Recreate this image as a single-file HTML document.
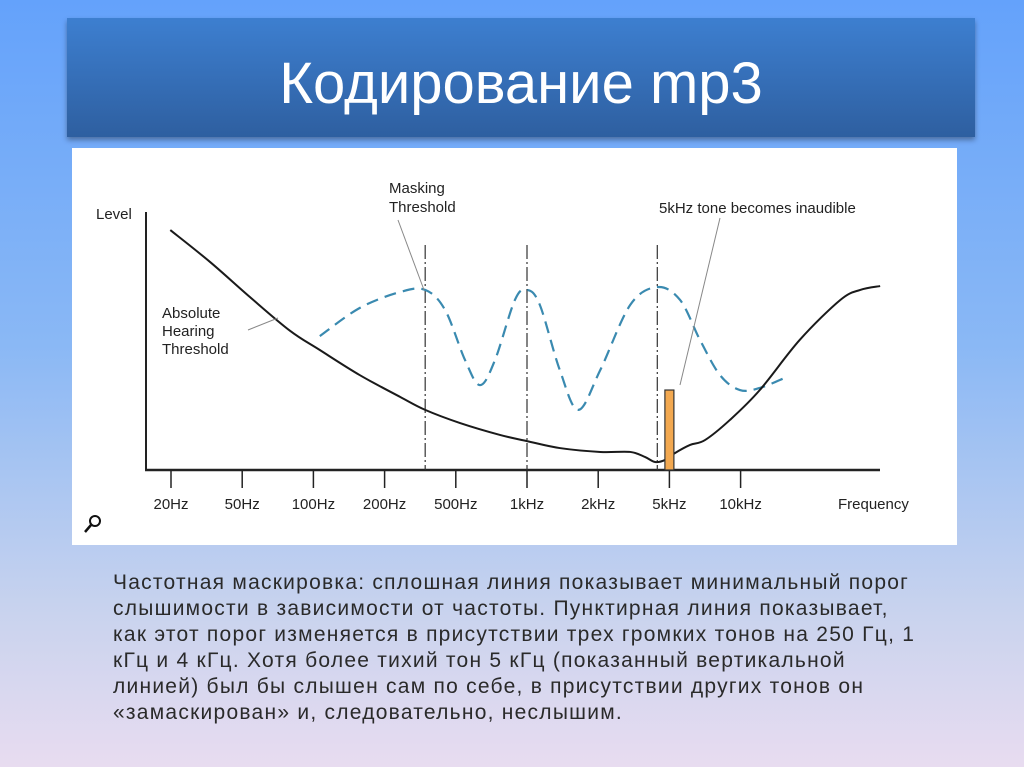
<!DOCTYPE html>
<html><head><meta charset="utf-8"><style>
body{margin:0;width:1024px;height:767px;overflow:hidden;background:linear-gradient(180deg,#64a2fb 0%,#8ab8f5 45%,#c9d3ee 80%,#e8dcf0 100%);font-family:"Liberation Sans","DejaVu Sans",sans-serif;position:relative}
#title{position:absolute;left:67px;top:18px;width:908px;height:119px;background:linear-gradient(180deg,#3d7fd0,#2e5fa0);box-shadow:0 3px 5px rgba(0,0,0,.35);color:#fff;font-size:58px;text-align:center;line-height:132px}
#chart{position:absolute;left:72px;top:148px;width:885px;height:397px;background:#fff}
#txt{position:absolute;left:113px;top:570px;width:900px;font-size:21px;letter-spacing:1.25px;line-height:26px;color:#2a2a2a;white-space:nowrap}
</style></head><body>
<div id="title">Кодирование mp3</div>
<svg id="chart" width="885" height="397" viewBox="72 148 885 397" xmlns="http://www.w3.org/2000/svg" font-family="Liberation Sans, sans-serif" font-size="15" fill="#222"></svg>
<div id="txt">Частотная маскировка: сплошная линия показывает минимальный порог<br>слышимости в зависимости от частоты. Пунктирная линия показывает,<br>как этот порог изменяется в присутствии трех громких тонов на 250 Гц, 1<br>кГц и 4 кГц. Хотя более тихий тон 5 кГц (показанный вертикальной<br>линией) был бы слышен сам по себе, в присутствии других тонов он<br>«замаскирован» и, следовательно, неслышим.</div>
<script>
const tickLabels=["20Hz","50Hz","100Hz","200Hz","500Hz","1kHz","2kHz","5kHz","10kHz"];
const absIdx=[-0.01,0.55,1.11,1.67,2.09,2.65,3.22,3.57,4.06,4.62,5,5.46,6.03,6.45,6.66,6.8,6.94,7.08,7.29,7.5,7.85,8.27,8.83,9.4,9.68,9.96];
const absLvl=[93,80.6,67,54,46.5,36.8,28.3,23.3,18.2,13.6,11.2,8.5,7,7,5,3.1,3.9,6.6,9.7,11.6,19.4,31,50.4,65.9,69.8,71.3];
const maskIdx=[2.09,2.65,3.22,3.57,3.85,4.13,4.34,4.55,4.83,5,5.18,5.46,5.72,6.03,6.45,6.83,7.15,7.43,7.71,7.99,8.27,8.62];
const maskLvl=[51.9,62.8,69,69.8,62,42.6,32.9,42.6,65.9,69.8,64,38.8,23.3,38.8,64,70.9,65.9,50.4,36.8,31,31.8,35.7];
const maskerIdx=[3.57,5,6.83];
const toneIdx=[7.0];const toneLvl=[31];
const X=i=>171+i*71.2, Y=l=>470-l*2.58;
const svg=document.getElementById('chart');const NS='http://www.w3.org/2000/svg';
function add(tag,a,name,text){const e=document.createElementNS(NS,tag);for(const k in a)e.setAttribute(k,a[k]);


if(text)e.textContent=text;svg.appendChild(e);return e;}
function smooth(xs,ys){const p=xs.map((x,i)=>[X(x),Y(ys[i])]);let d='M'+p[0];for(let i=0;i<p.length-1;i++){const a=p[i-1]||p[i],b=p[i],c=p[i+1],e=p[i+2]||c;
d+=` C${b[0]+(c[0]-a[0])/6},${b[1]+(c[1]-a[1])/6} ${c[0]-(e[0]-b[0])/6},${c[1]-(e[1]-b[1])/6} ${c[0]},${c[1]}`;}return d;}
add('line',{x1:146,y1:212,x2:146,y2:471,stroke:'#222','stroke-width':2},'y-axis');
add('line',{x1:145,y1:470,x2:880,y2:470,stroke:'#222','stroke-width':2.5},'x-axis');
tickLabels.forEach((t,i)=>{add('line',{x1:X(i),y1:471,x2:X(i),y2:488,stroke:'#222','stroke-width':1.5},'x-tick');
add('text',{x:X(i),y:509,'text-anchor':'middle'},'x-tick-label',t);});
add('text',{x:96,y:219},'y-axis-title','Level');
add('text',{x:838,y:509},'x-axis-title','Frequency');
maskerIdx.forEach(i=>add('line',{x1:X(i),y1:245,x2:X(i),y2:470,stroke:'#333','stroke-width':1.2,'stroke-dasharray':'14 3 2 3'},'masker-line'));
add('path',{d:smooth(maskIdx,maskLvl),fill:'none',stroke:'#3a8ab0','stroke-width':2.2,'stroke-dasharray':'12 7'},'masking-threshold-curve');
add('path',{d:smooth(absIdx,absLvl),fill:'none',stroke:'#1a1a1a','stroke-width':2},'absolute-threshold-curve');
toneIdx.forEach((i,k)=>add('rect',{x:X(i)-4.5,y:Y(toneLvl[k]),width:9,height:470-Y(toneLvl[k]),fill:'#f2a850',stroke:'#333','stroke-width':1.2},'tone-5khz-bar'));
add('line',{x1:398,y1:220,x2:424,y2:290,stroke:'#888','stroke-width':1},'masking-leader');
add('line',{x1:720,y1:218,x2:680,y2:385,stroke:'#888','stroke-width':1},'tone-leader');
add('line',{x1:248,y1:330,x2:278,y2:318,stroke:'#888','stroke-width':1},'absolute-leader');
add('text',{x:389,y:193},'masking-label-1','Masking');
add('text',{x:389,y:212},'masking-label-2','Threshold');
add('text',{x:659,y:213},'tone-label','5kHz tone becomes inaudible');
['Absolute','Hearing','Threshold'].forEach((t,k)=>add('text',{x:162,y:318+k*18},'absolute-label',t));
add('circle',{cx:95,cy:521,r:5,fill:'none',stroke:'#111','stroke-width':2},'zoom-icon');
add('line',{x1:91,y1:525,x2:85,y2:532,stroke:'#111','stroke-width':2.5},'zoom-icon-handle');
</script>
</body></html>
